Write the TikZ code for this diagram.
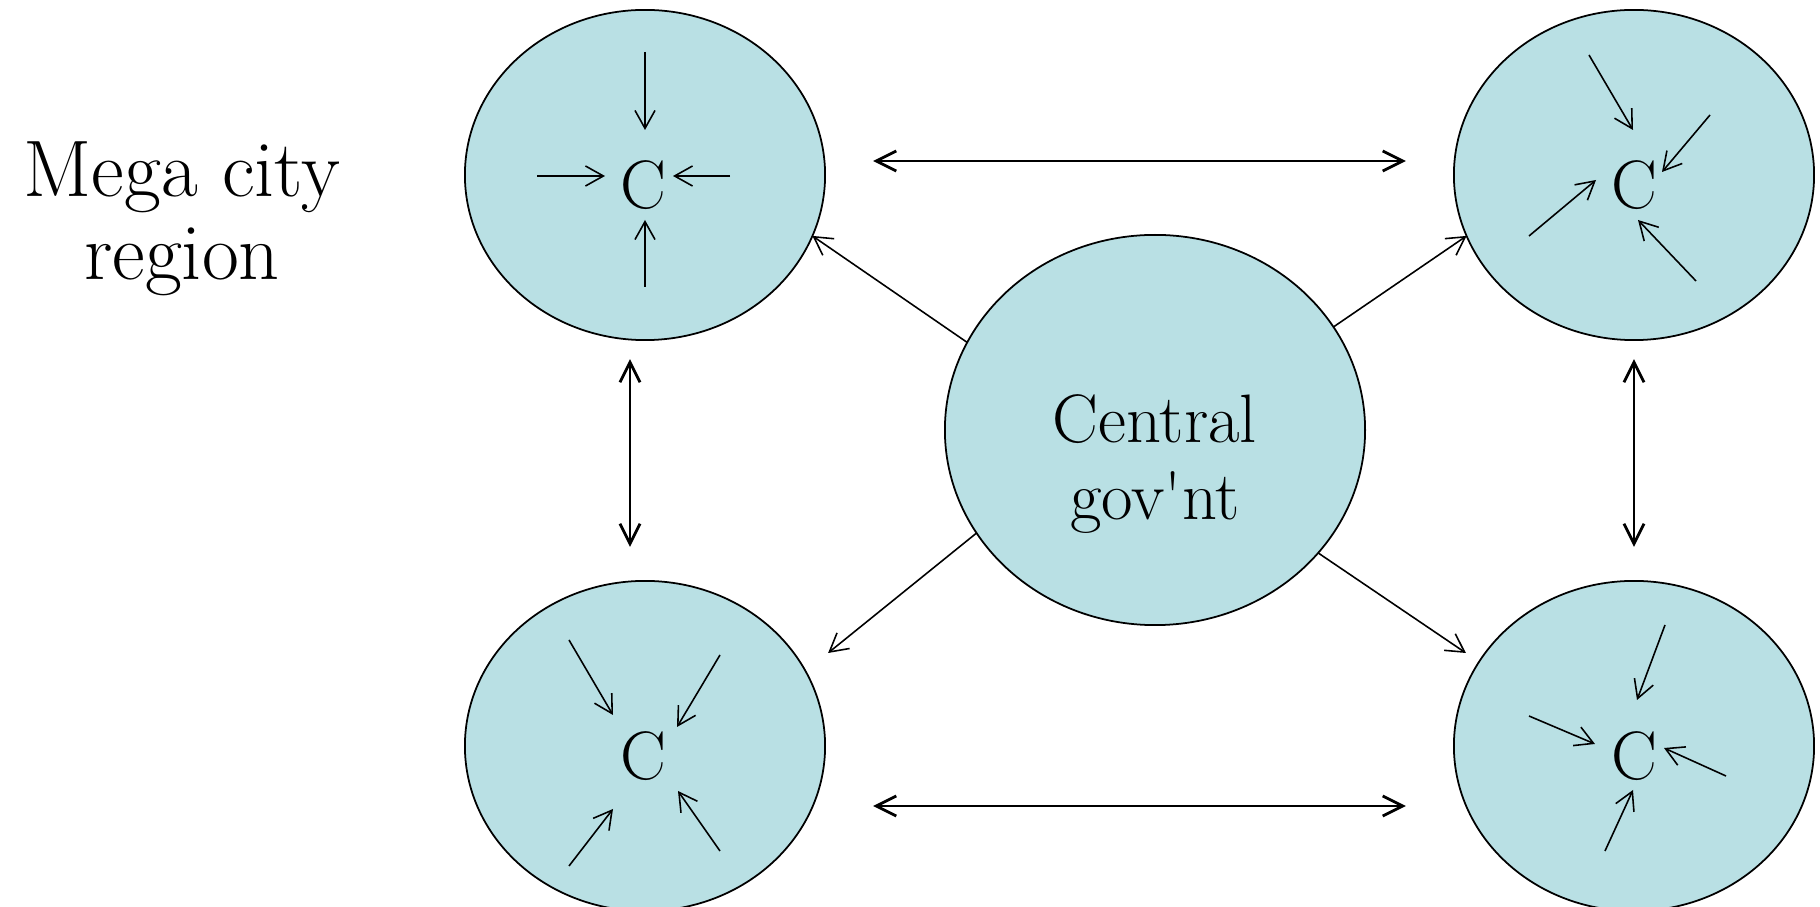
\documentclass[tikz,border=0pt]{standalone}
\usepackage{fontspec}
\usetikzlibrary{shapes.geometric,arrows.meta}
\definecolor{cityblue}{RGB}{185,224,228}
\begin{document}
\begin{tikzpicture}[x=0.01cm,y=-0.01cm,
  region/.style={ellipse,draw,fill=cityblue,line width=0.5pt,inner sep=0pt,outer sep=0pt,minimum width=3.6cm,minimum height=3.3cm},
  govt/.style={region,minimum width=4.2cm,minimum height=3.9cm},
  ctext/.style={anchor=base,inner sep=0pt,font=\fontsize{19.5}{22}\selectfont},
  flow/.style={-{Straight Barb[length=5.1pt,width=5.7pt]},line width=0.45pt},
  link/.style={{Straight Barb[length=5.7pt,width=5.7pt]}-{Straight Barb[length=5.7pt,width=5.7pt]},line width=0.8pt},
]
\useasboundingbox (0,0) rectangle (1820,907);

% ellipses
\node[region] (tl) at (645,175) {};
\node[region] (tr) at (1634,175) {};
\node[region] (bl) at (645,746) {};
\node[region] (br) at (1634,746) {};
\node[govt] (cg) at (1155,430) {};

% texts
\node[ctext] (tlC) at (643,209) {C};
\node[ctext] (trC) at (1634,209) {C};
\node[ctext] (blC) at (643,780) {C};
\node[ctext] (brC) at (1634,780) {C};
\node[font=\fontsize{19.5}{21.9}\selectfont,align=center,inner sep=0pt] (cgT) at (1155,464) {Central\\gov\textquotesingle nt};
\node[font=\fontsize{22.8}{23.6}\selectfont,align=center,inner sep=0pt] (title) at (182,219) {Mega city\\region};

% inner arrows
\begin{scope}[shift={(tl.center)}]
\foreach \a/\b/\c/\d in {0/-123/0/-45, -108/1/-40/1, 85/1/28/1, 0/112/0/45}
  \draw[flow] (\a,\b) -- (\c,\d);
\end{scope}
\begin{scope}[shift={(tr.center)}]
\foreach \a/\b/\c/\d in {-45/-120/-1/-45, 76/-60/28/-3, -105/61/-38/5, 62/106/4/45}
  \draw[flow] (\a,\b) -- (\c,\d);
\end{scope}
\begin{scope}[shift={(bl.center)}]
\foreach \a/\b/\c/\d in {-76/-106/-32/-31, 75/-91/32/-19, -76/120/-32/63, 75/105/33/45}
  \draw[flow] (\a,\b) -- (\c,\d);
\end{scope}
\begin{scope}[shift={(br.center)}]
\foreach \a/\b/\c/\d in {31/-121/3/-46, -105/-30/-39/-2, 92/30/30/2, -29/105/-1/44}
  \draw[flow] (\a,\b) -- (\c,\d);
\end{scope}

% central government to regions
\draw[flow] (cg.155.5) -- (tl.-20.6);
\draw[flow] (cg.30.3) -- (tr.200.7);
\draw[flow] (cg.210.7) -- ([shift={(3,-93)}]bl.east);
\draw[flow] (cg.323.8) -- ([shift={(12,-93)}]br.west);

% links between regions
\draw[link] ([shift={(48,-14)}]tl.east) -- ([shift={(-48,-14)}]tr.west);
\draw[link] ([shift={(48,60)}]bl.east) -- ([shift={(-48,60)}]br.west);
\draw[link] ([shift={(-15,19)}]tl.south) -- ([shift={(-15,-34)}]bl.north);
\draw[link] ([shift={(0,19)}]tr.south) -- ([shift={(0,-34)}]br.north);
\end{tikzpicture}
\end{document}
